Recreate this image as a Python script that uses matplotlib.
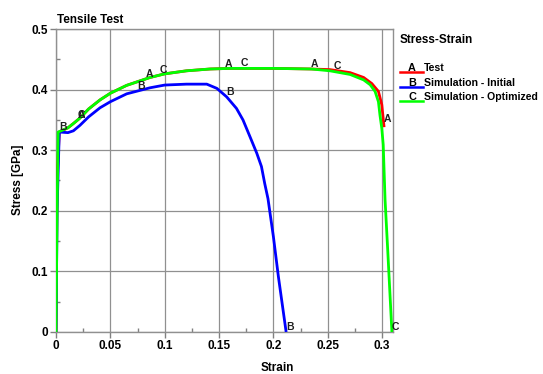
import numpy as np
import matplotlib
matplotlib.use("Agg")
import matplotlib.pyplot as plt
from matplotlib.lines import Line2D
from matplotlib.ticker import MultipleLocator, FuncFormatter

plt.rcParams['font.family'] = ['Liberation Sans', 'DejaVu Sans']

# --- data ---
test_strain = [0, 0.001, 0.003, 0.011, 0.016, 0.022, 0.03, 0.0405, 0.05, 0.065, 0.0865, 0.1, 0.12,
               0.1417, 0.16, 0.2, 0.235, 0.252, 0.2705, 0.283, 0.2905, 0.2966, 0.2997, 0.301, 0.3018]
test_stress = [0, 0.25, 0.33, 0.337, 0.344, 0.353, 0.368, 0.383, 0.394, 0.407, 0.42, 0.426, 0.431,
               0.434, 0.435, 0.435, 0.434, 0.433, 0.428, 0.420, 0.410, 0.397, 0.375, 0.352, 0.338]

init_strain = [0, 0.001, 0.003, 0.011, 0.016, 0.022, 0.03, 0.0405, 0.05, 0.065, 0.0865, 0.1, 0.12,
               0.1387, 0.148, 0.157, 0.166, 0.172, 0.1785, 0.1847, 0.189, 0.192, 0.195, 0.2,
               0.2046, 0.2117]
init_stress = [0, 0.2, 0.33, 0.329, 0.332, 0.341, 0.355, 0.370, 0.380, 0.393, 0.403, 0.4075, 0.409,
               0.409, 0.402, 0.388, 0.369, 0.350, 0.322, 0.295, 0.273, 0.245, 0.22, 0.157,
               0.091, 0.0]

opt_strain = [0, 0.001, 0.002, 0.006, 0.011, 0.016, 0.022, 0.03, 0.0405, 0.05, 0.065, 0.0865, 0.1,
              0.12, 0.1417, 0.16, 0.2, 0.235, 0.252, 0.2705, 0.283, 0.289, 0.2935, 0.2966, 0.298,
              0.2997, 0.301, 0.3027, 0.305, 0.307, 0.309]
opt_stress = [0, 0.2, 0.33, 0.333, 0.337, 0.344, 0.353, 0.368, 0.383, 0.394, 0.407, 0.42, 0.426,
              0.431, 0.434, 0.435, 0.435, 0.434, 0.431, 0.425, 0.416, 0.408, 0.397, 0.380, 0.358,
              0.336, 0.309, 0.218, 0.14, 0.07, 0.0]

series_names = ["Test", "Simulation - Initial", "Simulation - Optimized"]
series_letters = ["A", "B", "C"]
series_colors = ["#ff0000", "#0000ff", "#00ff00"]
label_strains = [
    [0.02, 0.083, 0.155, 0.234, 0.3015],
    [0.003, 0.075, 0.157, 0.2117],
    [0.02, 0.095, 0.17, 0.255, 0.309],
]

x_ticks = [0, 0.05, 0.1, 0.15, 0.2, 0.25, 0.3]
y_ticks = [0, 0.1, 0.2, 0.3, 0.4, 0.5]

W, H = 543, 374
fig = plt.figure(figsize=(W / 100, H / 100), dpi=100)
ax = fig.add_axes([56 / W, 1 - 332 / H, (393 - 56) / W, (332 - 29) / H])

data = [(test_strain, test_stress), (init_strain, init_stress), (opt_strain, opt_stress)]
for i in range(3):
    s, v = data[i]
    ax.plot(s, v, color=series_colors[i], lw=2.0, solid_capstyle='butt',
            solid_joinstyle='round', zorder=3 + i)

for i in range(3):
    s, v = data[i]
    for xs in label_strains[i]:
        yv = float(np.interp(xs, s, v))
        ax.text(xs, yv, series_letters[i], ha='left', va='bottom', fontsize=7.5,
                fontweight='bold', color='#202020', zorder=10)

ax.set_xlim(0, 0.31)
ax.set_ylim(0, 0.5)
ax.set_xticks(x_ticks)
ax.set_yticks(y_ticks)
ax.xaxis.set_minor_locator(MultipleLocator(0.025))
ax.yaxis.set_minor_locator(MultipleLocator(0.05))
fmt = FuncFormatter(lambda v, p: "%g" % round(v, 4))
ax.xaxis.set_major_formatter(fmt)
ax.yaxis.set_major_formatter(fmt)
ax.tick_params(which='major', direction='out', length=4, width=1, color='#808080',
               labelsize=8.5, pad=2)
ax.tick_params(which='minor', direction='in', length=3, width=1, color='#808080')
for lab in ax.get_xticklabels() + ax.get_yticklabels():
    lab.set_fontweight('bold')
ax.grid(True, which='major', color='#909090', lw=0.9)
ax.set_axisbelow(True)
for sp in ax.spines.values():
    sp.set_color('#909090')
    sp.set_linewidth(1.0)

fig.text(57 / W, 1 - 20 / H, "Tensile Test", ha='left', va='center', fontsize=8.5, fontweight='bold')
fig.text(18 / W, 1 - 180 / H, "Stress [GPa]", ha='center', va='center', rotation=90,
         fontsize=8.5, fontweight='bold')
fig.text(277 / W, 1 - 368 / H, "Strain", ha='center', va='center', fontsize=8.5, fontweight='bold')

# legend
fig.text(400 / W, 1 - 40 / H, "Stress-Strain", ha='left', va='center', fontsize=8.5, fontweight='bold')
for k in range(3):
    yc = 68 + 14.5 * k
    fig.add_artist(Line2D([400 / W, 423 / W], [1 - (yc + 4) / H, 1 - (yc + 4) / H],
                          color=series_colors[k], lw=1.8, transform=fig.transFigure))
    fig.text(412 / W, 1 - yc / H, series_letters[k], ha='center', va='center', fontsize=7.8,
             fontweight='bold')
    fig.text(424 / W, 1 - yc / H, series_names[k], ha='left', va='center', fontsize=7.6,
             fontweight='bold')

fig.savefig("out.png", dpi=100)
